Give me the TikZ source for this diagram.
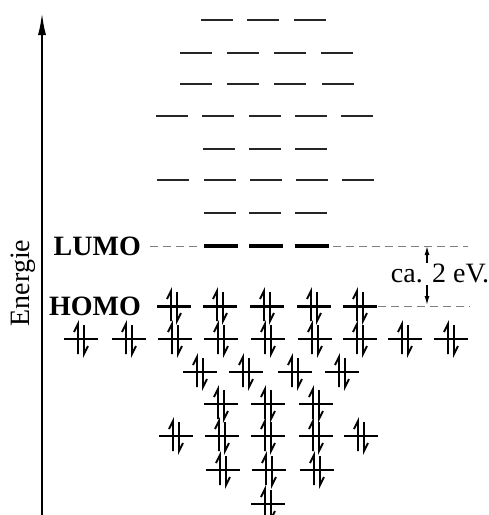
\documentclass[tikz,border=0pt]{standalone}
\usepackage{fontspec}
\setmainfont{Liberation Serif}
\usetikzlibrary{arrows.meta,positioning}

\begin{document}
\begin{tikzpicture}[
        x=1pt, y=-1pt,
        font=\fontsize{28}{32}\selectfont,
        level/.style={line width=2.8pt, black!85},
        frontier/.style={line width=3.8pt, black},
        guide/.style={line width=1pt, gray, dash pattern=on 8pt off 5pt},
        axis/.style={line width=1.8pt, -{Latex[length=22pt,width=8pt]}},
        gap/.style={line width=1.3pt, -{Latex[length=9pt,width=5pt]}},
        pair/.pic={
            \draw[line width=#1] (-17,0) -- (17,0);
            \draw[line width=1.8pt] (-3,15) -- (-3,-15) -- (-7,-7);
            \draw[line width=1.8pt] (3,-14) -- (3,15) -- (7,7);
        }
    ]
    \useasboundingbox (0,0) rectangle (489,515);

    % energy axis
    \coordinate (axisbot) at (42,515);
    \coordinate (axistop) at (42,13);
    \draw[axis] (axisbot) -- (axistop);
    \node[rotate=90, inner sep=0] (energie) at (23,283) {Energie};

    % empty levels
    \foreach \y/\xs in {20/{217,263,310}, 53/{196,243,290,337}, 84/{196,243,290,338},
                        116/{172,218,265,311,357}, 149/{219,265,311},
                        180/{173,220,266,312,358}, 213/{220,265,311}}
        \foreach \x in \xs
            \draw[level] (\x-16,\y) -- (\x+16,\y);

    % LUMO
    \node[anchor=east, inner sep=0, font=\fontsize{28}{32}\selectfont\bfseries] (lumo) at (141,246) {LUMO};
    \foreach \x in {221,266,312}
        \draw[frontier] (\x-17,246) -- (\x+17,246);
    \coordinate (lumoa) at (150,246);
    \coordinate (lumob) at (201,246);
    \coordinate (lumoc) at (333,246);
    \coordinate (lumod) at (468,246);
    \draw[guide] (lumoa) -- (lumob);
    \draw[guide] (lumoc) -- (lumod);

    % HOMO
    \node[anchor=east, inner sep=0, font=\fontsize{28}{32}\selectfont\bfseries] (homo) at (141,306) {HOMO};
    \foreach \x in {174,220,267,314,360}
        \pic at (\x,306) {pair=3pt};
    \coordinate (homoa) at (378,306);
    \coordinate (homob) at (470,306);
    \draw[guide] (homoa) -- (homob);

    % filled levels
    \foreach \y/\xs in {339/{81,129,175,221,268,315,360,405,451}, 372/{200,246,295,342},
                        404/{221,268,316}, 436/{176,222,268,316,361},
                        470/{223,269,317}, 504/{268}}
        \foreach \x in \xs
            \pic at (\x,\y) {pair=2.2pt};

    % band gap
    \node[inner sep=0] (gaplabel) at (440,273) {ca. 2 eV.};
    \coordinate (gaptop) at (427,263);
    \coordinate (gapbot) at (427,285);
    \coordinate (gaplumo) at (427,246);
    \coordinate (gaphomo) at (427,305);
    \draw[gap] (gaptop) -- (gaplumo);
    \draw[gap] (gapbot) -- (gaphomo);
\end{tikzpicture}
\end{document}
